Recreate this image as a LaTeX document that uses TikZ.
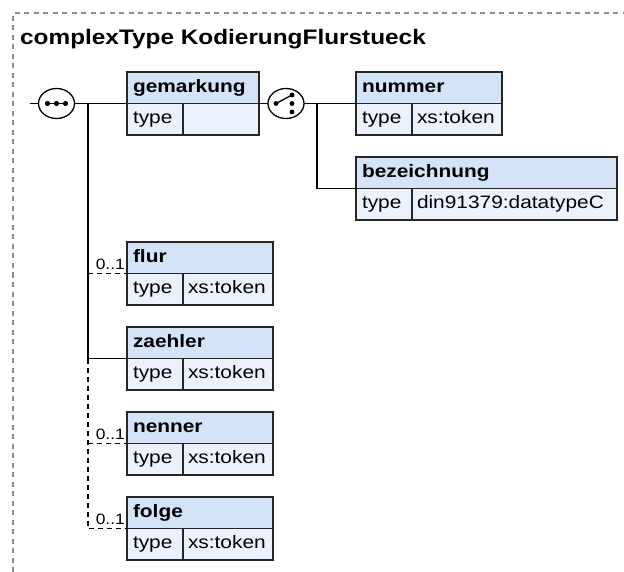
\documentclass[tikz,border=0pt]{standalone}
\usepackage{fontspec}
\setmainfont{Liberation Sans}[FakeStretch=1.16]
\usetikzlibrary{positioning, shapes.geometric, calc}
\definecolor{hdrblue}{HTML}{D4E3F8}
\definecolor{rowblue}{HTML}{EBF2FC}
\definecolor{boxgray}{HTML}{262626}
\definecolor{framegray}{HTML}{8C8C8C}
\tikzset{elem_h/.style={draw=boxgray, fill=hdrblue, line width=1.4pt, font=\fontsize{18}{20}\selectfont\bfseries, align=left, inner xsep=6pt, inner ysep=0pt, minimum height=31.5pt, text height=13pt, text depth=4pt, outer sep=0pt, text width=#1},
elem_t/.style={elem_h=44pt, fill=rowblue, font=\fontsize{18}{20}\selectfont},
elem_v/.style={elem_h=#1, fill=rowblue, inner xsep=5pt, font=\fontsize{18}{20}\selectfont},
compositor/.style={draw, ellipse, line width=1.3pt, fill=white, minimum width=36pt, minimum height=30pt, inner sep=0pt, outer sep=0pt},
conn/.style={line width=1.3pt},
conn_opt/.style={conn, dash pattern=on 5pt off 4pt},
mult_t/.style={font=\fontsize{15}{17}\selectfont, inner sep=0pt, anchor=south east},
frame_t/.style={draw=framegray, line width=1.2pt, dash pattern=on 5pt off 4.5pt}}

\begin{document}
\begin{tikzpicture}[x=1pt, y=-1pt]
  \useasboundingbox (0,0) rectangle (624,572);
  % frame and title
  \draw[frame_t] (13,572) -- (13,13) -- (624,13);
  \node[anchor=base west, inner sep=0pt, font=\fontsize{21}{24}\selectfont\bfseries] (title) at (20,45) {complexType KodierungFlurstueck};
  % compositors
  \node[compositor] (seq) at (56.5,103.5) {};
  \node[compositor] (cho) at (286,103.5) {};
  \draw[line width=1.3pt] ([xshift=-10pt]seq.center) -- ([xshift=10pt]seq.center);
  \foreach \dx in {-9,0,9} \fill ([xshift=\dx pt]seq.center) circle (2.6pt);
  \draw[line width=1.3pt] ([xshift=-10pt]cho.center) -- ([xshift=6pt,yshift=8.5pt]cho.center);
  \fill ([xshift=-10pt]cho.center) circle (2.4pt);
  \foreach \dy in {8.5,0,-8.5} \fill ([xshift=6pt,yshift=\dy pt]cho.center) circle (2.4pt);
  % gemarkung
  \node[elem_h=120pt, anchor=north west] (gem) at (127,72) {gemarkung};
  \node[elem_t, below right=0pt and 0pt of gem.south west] (gem_t) {type};
  \node[elem_v=66pt, right=0pt of gem_t] (gem_v) {};
  % choice members
  \node[elem_h=134pt, anchor=north west] (num) at (356,72) {nummer};
  \node[elem_t, below right=0pt and 0pt of num.south west] (num_t) {type};
  \node[elem_v=80pt, right=0pt of num_t] (num_v) {xs:token};
  \node[elem_h=249pt, below right=22pt and 0pt of num_t.south west] (bez) {bezeichnung};
  \node[elem_t, below right=0pt and 0pt of bez.south west] (bez_t) {type};
  \node[elem_v=195pt, right=0pt of bez_t] (bez_v) {din91379:datatypeC};
  % sequence members
  \node[elem_h=134pt, anchor=north west] (flur) at (127,242) {flur};
  \node[elem_t, below right=0pt and 0pt of flur.south west] (flur_t) {type};
  \node[elem_v=80pt, right=0pt of flur_t] (flur_v) {xs:token};
  \node[elem_h=134pt, below right=22pt and 0pt of flur_t.south west] (zae) {zaehler};
  \node[elem_t, below right=0pt and 0pt of zae.south west] (zae_t) {type};
  \node[elem_v=80pt, right=0pt of zae_t] (zae_v) {xs:token};
  \node[elem_h=134pt, below right=22pt and 0pt of zae_t.south west] (nen) {nenner};
  \node[elem_t, below right=0pt and 0pt of nen.south west] (nen_t) {type};
  \node[elem_v=80pt, right=0pt of nen_t] (nen_v) {xs:token};
  \node[elem_h=134pt, below right=22pt and 0pt of nen_t.south west] (folge) {folge};
  \node[elem_t, below right=0pt and 0pt of folge.south west] (folge_t) {type};
  \node[elem_v=80pt, right=0pt of folge_t] (folge_v) {xs:token};
  % sequence wires
  \coordinate (wire) at (30,103.5);
  \coordinate (seq_bus) at (88,103.5);
  \draw[conn] (wire) -- (seq.west);
  \draw[conn] (seq.east) -- (gem.south west);
  \draw[conn] (seq_bus) |- (zae.south west);
  \draw[conn_opt] (seq_bus |- flur.south west) -- (flur.south west);
  \draw[conn_opt] (seq_bus |- zae.south west) |- (folge.south west);
  \draw[conn_opt] (seq_bus |- nen.south west) -- (nen.south west);
  % choice wires
  \coordinate (cho_bus) at (317,103.5);
  \draw[conn] (gem.south east) -- (cho.west);
  \draw[conn] (cho.east) -- (num.south west);
  \draw[conn] (cho_bus) |- (bez.south west);
  % occurrences
  \node[mult_t] (flur_m) at ([xshift=-2pt,yshift=4pt]flur.south west) {0..1};
  \node[mult_t] (nen_m) at ([xshift=-2pt,yshift=4pt]nen.south west) {0..1};
  \node[mult_t] (folge_m) at ([xshift=-2pt,yshift=4pt]folge.south west) {0..1};
\end{tikzpicture}
\end{document}
